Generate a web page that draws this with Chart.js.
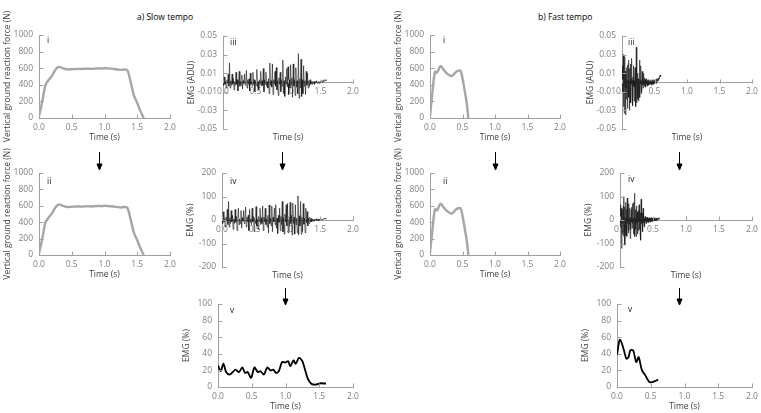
<!DOCTYPE html>
<html>
<head>
<meta charset="utf-8">
<script src="https://cdn.jsdelivr.net/npm/chart.js@4.4.1/dist/chart.umd.min.js"></script>
<style>
    body { margin: 0; width: 761px; height: 413px; background: #fff; position: relative; overflow: hidden; font-family: "Open Sans", sans-serif; }
    canvas { position: absolute; }
    .heading { position: absolute; font-size: 8.5px; line-height: 10px; color: #000; white-space: nowrap; }
    svg { position: absolute; left: 0; top: 0; }
</style>
</head>
<body>
<div class="heading" style="left:137px; top:12px;">a) Slow tempo</div>
<div class="heading" style="left:538px; top:12px;">b) Fast tempo</div>

<svg width="761" height="413">
    <g stroke="#000" stroke-width="1" fill="#000">
        <line x1="99.5" y1="152" x2="99.5" y2="165" /><polygon points="97,164 102,164 99.5,170" />
        <line x1="282.5" y1="152" x2="282.5" y2="165" /><polygon points="280,164 285,164 282.5,170" />
        <line x1="285.5" y1="288" x2="285.5" y2="300" /><polygon points="283,299 288,299 285.5,305" />
        <line x1="495.5" y1="152" x2="495.5" y2="165" /><polygon points="493,164 498,164 495.5,170" />
        <line x1="679.5" y1="152" x2="679.5" y2="165" /><polygon points="677,164 682,164 679.5,170" />
        <line x1="679.5" y1="288" x2="679.5" y2="300" /><polygon points="677,299 682,299 679.5,305" />
    </g>
</svg>

<script>
// Ground reaction force, slow tempo (s, N)
const forceSlowTime = [0.00, 0.05, 0.10, 0.15, 0.20, 0.25, 0.30, 0.35, 0.40, 0.45, 0.50, 0.55, 0.60, 0.65, 0.70, 0.75,
    0.80, 0.85, 0.90, 0.95, 1.00, 1.05, 1.10, 1.15, 1.20, 1.25, 1.30, 1.35, 1.40, 1.45, 1.50, 1.55, 1.60];
const forceSlow = [20, 200, 400, 460, 510, 580, 615, 605, 590, 585, 588, 590, 592, 590, 593, 595,
    592, 595, 598, 596, 600, 598, 595, 590, 585, 580, 585, 575, 430, 270, 180, 80, 0];

// Ground reaction force, fast tempo (s, N)
const forceFastTime = [0.00, 0.03, 0.06, 0.08, 0.10, 0.12, 0.15, 0.17, 0.20, 0.25, 0.30, 0.33, 0.36, 0.40, 0.44, 0.47,
    0.50, 0.54, 0.57, 0.59];
const forceFast = [30, 250, 480, 560, 545, 560, 615, 625, 590, 545, 515, 505, 520, 555, 570, 570,
    480, 300, 150, 0];

// Raw EMG, slow tempo (ADU), one sample every 0.01 s
const EMG_SLOW_DT = 0.01;
const emgSlowRaw = [
    0.002, -0.003, 0.006, -0.002, 0.001, -0.006, 0.003, -0.001, 0.009, -0.004,
    0.021, -0.006, 0.002, -0.003, 0.009, -0.002, 0.004, -0.008, 0.001, -0.003,
    0.011, -0.002, 0.003, -0.009, 0.002, 0.012, -0.004, 0.001, -0.003, 0.008,
    -0.007, 0.002, -0.001, 0.009, -0.003, 0.002, 0.013, -0.006, 0.003, -0.002,
    0.004, -0.009, 0.010, -0.002, 0.001, -0.004, 0.011, -0.002, 0.003, -0.010,
    0.002, -0.003, 0.014, -0.005, 0.001, -0.008, 0.003, -0.002, 0.012, -0.004,
    0.002, -0.003, 0.015, -0.010, 0.003, -0.002, 0.011, -0.004, 0.001, -0.006,
    0.004, -0.012, 0.021, -0.003, 0.002, -0.005, 0.020, -0.013, 0.003, -0.002,
    0.012, -0.004, 0.016, -0.008, 0.002, -0.014, 0.005, -0.002, 0.011, -0.010,
    0.003, -0.004, 0.024, -0.012, 0.002, -0.015, 0.006, -0.002, 0.015, -0.005,
    0.017, -0.013, 0.003, -0.006, 0.019, -0.003, 0.005, -0.016, 0.020, -0.004,
    0.003, -0.014, 0.016, -0.005, 0.002, -0.012, 0.031, -0.017, 0.004, -0.006,
    0.025, -0.015, 0.003, -0.012, 0.018, -0.004, 0.002, -0.013, 0.012, -0.003,
    0.010, -0.006, 0.002, -0.004, 0.003, -0.002, 0.001, -0.002, 0.001, -0.001,
    0.001, -0.002, 0.001, 0.000, 0.002, -0.001, 0.000, 0.001, -0.001, 0.001,
    0.000, 0.002, 0.001, 0.000, 0.002, 0.001, 0.003, 0.002, 0.003, 0.002,
    0.003
];

// Normalised EMG, slow tempo (%)
const emgSlowNorm = [
    10, -15, 35, -8, 5, -30, 12, -5, 45, -20,
    79, -30, 10, -15, 40, -8, 20, -40, 5, -15,
    45, -10, 15, -45, 8, 50, -20, 5, -15, 40,
    -35, 10, -5, 40, -15, 8, 55, -30, 12, -8,
    20, -45, 45, -10, 5, -20, 50, -8, 15, -50,
    10, -15, 57, -25, 5, -40, 15, -8, 50, -20,
    10, -15, 60, -45, 12, -8, 50, -20, 5, -30,
    20, -55, 64, -15, 8, -25, 60, -50, 12, -8,
    50, -20, 65, -35, 8, -58, 20, -10, 50, -45,
    15, -20, 79, -50, 10, -60, 25, -8, 65, -25,
    70, -55, 12, -25, 75, -15, 20, -64, 72, -15,
    12, -60, 65, -20, 8, -55, 103, -64, 18, -25,
    79, -60, 12, -50, 70, -18, 8, -55, 50, -12,
    36, -25, 8, -15, 12, -8, 6, -8, 4, -3,
    4, -6, 3, 0, 5, -3, 2, 4, -3, 3,
    1, 5, 3, 0, 5, 3, 7, 4, 6, 4,
    5
];

// Raw EMG, fast tempo (ADU), one sample every 0.005 s
const EMG_FAST_DT = 0.005;
const emgFastRaw = [
    0.004, -0.010, 0.018, -0.004, 0.030, -0.026, 0.006, -0.033, 0.028, -0.005,
    0.012, -0.035, 0.004, -0.018, 0.016, -0.006, 0.003, -0.028, 0.019, -0.004,
    0.024, -0.016, 0.002, -0.030, 0.015, -0.003, 0.020, -0.022, 0.004, -0.002,
    0.026, -0.018, 0.003, -0.025, 0.006, -0.004, 0.018, -0.020, 0.002, -0.005,
    0.016, -0.003, 0.006, -0.026, 0.038, -0.022, 0.003, -0.005, 0.010, -0.018,
    0.004, -0.020, 0.002, -0.006, 0.024, -0.016, 0.003, -0.002, 0.018, -0.012,
    0.002, -0.010, 0.012, -0.003, 0.002, -0.006, 0.010, -0.002, 0.003, -0.004,
    0.005, -0.004, 0.003, -0.005, 0.004, -0.002, 0.003, -0.004, 0.002, -0.003,
    0.003, -0.002, 0.002, -0.003, 0.001, -0.002, 0.002, -0.001, 0.003, -0.002,
    0.001, -0.003, 0.002, -0.001, 0.003, -0.002, 0.001, -0.002, 0.003, 0.000,
    0.002, -0.001, 0.003, 0.001, 0.002, -0.001, 0.004, 0.002, 0.003, 0.001,
    0.004, 0.002, 0.005, 0.003, 0.004, 0.006, 0.005, 0.008, 0.006, 0.007,
    0.008
];

// Normalised EMG, fast tempo (%)
const emgFastNorm = [
    20, -30, 65, -10, 50, -121, 15, -60, 45, -15,
    60, -70, 100, -20, 55, -107, 10, -65, 75, -12,
    45, -70, 93, -15, 10, -55, 70, -45, 8, -20,
    50, -79, 12, -40, 45, -10, 55, -35, 70, -15,
    8, -60, 75, -12, 114, -70, 10, -40, 45, -71,
    60, -15, 35, -60, 10, -45, 40, -8, 65, -40,
    12, -60, 30, -86, 89, -15, 40, -10, 30, -50,
    50, -12, 25, -30, 8, -25, 15, -5, 12, -15,
    10, -14, 12, -8, 10, -12, 8, -6, 10, -8,
    6, -9, 8, -5, 10, -7, 5, -6, 9, -4,
    7, -5, 9, -3, 8, -4, 10, -2, 7, -3,
    8, -2, 9, -1, 6, 4, 8, 2, 10, 5,
    8
];

// Smoothed EMG envelope, slow tempo (s, %)
const rmsSlowTime = [0.00, 0.04, 0.08, 0.12, 0.17, 0.22, 0.26, 0.31, 0.36, 0.40, 0.44, 0.49, 0.54, 0.59, 0.63, 0.68,
    0.73, 0.78, 0.82, 0.86, 0.90, 0.95, 1.00, 1.04, 1.07, 1.12, 1.15, 1.20, 1.25, 1.28, 1.33, 1.38,
    1.41, 1.46, 1.52, 1.60];
const rmsSlow = [26, 19, 28, 18, 15, 18, 21, 18, 23.5, 17, 18, 11, 23.5, 18, 19, 15,
    23.5, 20, 21, 17, 19, 30, 29.5, 31, 25, 32, 28, 35, 31, 23.5, 10, 4,
    3, 3, 4.5, 4];

// Smoothed EMG envelope, fast tempo (s, %)
const rmsFastTime = [0.00, 0.04, 0.07, 0.11, 0.14, 0.17, 0.20, 0.24, 0.285, 0.32, 0.37, 0.42, 0.48, 0.52, 0.565, 0.61];
const rmsFast = [38.5, 57, 53, 42, 34, 36, 44.5, 44, 30, 36, 20, 14, 6, 6, 7, 9];

const AXIS_COLOR = '#a0a0a0';
const TICK_COLOR = '#808080';
const TITLE_COLOR = '#404040';

Chart.defaults.font.family = "'Open Sans', sans-serif";
Chart.defaults.font.size = 8.5;

function pairs(xs, ys) {
    return ys.map((v, i) => ({ x: xs[i], y: v }));
}

function sampled(values, dt) {
    return values.map((v, i) => ({ x: i * dt, y: v }));
}

// Tick marks pointing into the plot, like the original spreadsheet axes
const innerTicks = {
    id: 'innerTicks',
    afterDatasetsDraw(chart) {
        const { ctx, scales: { x, y } } = chart;
        const axisY = typeof x.options.position === 'object'
            ? Math.round(y.getPixelForValue(0)) + 0.5
            : Math.round(chart.chartArea.bottom) + 0.5;
        const axisX = Math.round(chart.chartArea.left) + 0.5;
        ctx.save();
        ctx.strokeStyle = AXIS_COLOR;
        ctx.lineWidth = 1;
        ctx.beginPath();
        y.ticks.forEach(t => {
            const py = Math.round(y.getPixelForValue(t.value)) + 0.5;
            ctx.moveTo(axisX, py);
            ctx.lineTo(axisX + 4, py);
        });
        x.ticks.forEach(t => {
            const px = Math.round(x.getPixelForValue(t.value)) + 0.5;
            ctx.moveTo(px, axisY);
            ctx.lineTo(px, axisY - 4);
        });
        ctx.stroke();
        ctx.restore();
    }
};

// Roman numeral in the upper left corner of each panel
const panelTag = {
    id: 'panelTag',
    afterDraw(chart, args, opts) {
        if (!opts.text) return;
        const { ctx, chartArea } = chart;
        ctx.save();
        ctx.fillStyle = '#222';
        ctx.font = "8.5px 'Open Sans', sans-serif";
        ctx.textAlign = 'left';
        ctx.textBaseline = 'middle';
        ctx.fillText(opts.text, chartArea.left + opts.dx, chartArea.top + opts.dy);
        ctx.restore();
    }
};

function panel(box, dataset, yAxis, tag) {
    const canvas = document.createElement('canvas');
    canvas.width = box.r - box.x + 50;
    canvas.height = box.b - box.y + 60;
    canvas.style.left = (box.x - 40) + 'px';
    canvas.style.top = (box.y - 30) + 'px';
    document.body.appendChild(canvas);

    const zeroAxis = yAxis.min < 0;

    new Chart(canvas, {
        type: 'line',
        data: { datasets: [dataset] },
        options: {
            responsive: false,
            animation: false,
            devicePixelRatio: 1,
            layout: { padding: { top: 30, right: 10, left: 0, bottom: zeroAxis ? 15 : 0 } },
            elements: { point: { radius: 0 } },
            plugins: {
                legend: { display: false },
                tooltip: { enabled: false },
                title: {
                    display: zeroAxis,
                    text: 'Time (s)',
                    position: 'bottom',
                    fullSize: false,
                    color: TITLE_COLOR,
                    font: { size: 8.5, weight: 'normal', lineHeight: '12px' },
                    padding: { top: 3, bottom: 0 }
                },
                panelTag: tag
            },
            scales: {
                x: {
                    type: 'linear',
                    min: 0,
                    max: 2,
                    position: zeroAxis ? { y: 0 } : 'bottom',
                    grid: { drawOnChartArea: false, drawTicks: false },
                    border: { color: AXIS_COLOR, width: 1 },
                    ticks: {
                        stepSize: 0.5,
                        padding: 4,
                        color: TICK_COLOR,
                        maxRotation: 0,
                        autoSkip: false,
                        callback: v => v.toFixed(1)
                    },
                    title: {
                        display: !zeroAxis,
                        text: 'Time (s)',
                        color: TITLE_COLOR,
                        padding: { top: 0, bottom: 5 }
                    },
                    afterFit: s => { if (!zeroAxis) s.height = 30; }
                },
                y: {
                    min: yAxis.min,
                    max: yAxis.max,
                    grid: { drawOnChartArea: false, drawTicks: false },
                    border: { color: AXIS_COLOR, width: 1 },
                    ticks: {
                        stepSize: yAxis.step,
                        padding: 6,
                        color: TICK_COLOR,
                        autoSkip: false,
                        callback: v => v.toFixed(yAxis.decimals)
                    },
                    title: {
                        display: true,
                        text: yAxis.title,
                        color: TITLE_COLOR,
                        padding: { top: 3, bottom: 0 }
                    },
                    afterFit: s => { s.width = 40; }
                }
            }
        },
        plugins: [innerTicks, panelTag]
    });
}

const forceAxis = { min: 0, max: 1000, step: 200, decimals: 0, title: 'Vertical ground reaction force (N)' };
const rawAxis = { min: -0.05, max: 0.05, step: 0.02, decimals: 2, title: 'EMG (ADU)' };
const normAxis = { min: -200, max: 200, step: 100, decimals: 0, title: 'EMG (%)' };
const rmsAxis = { min: 0, max: 100, step: 20, decimals: 0, title: 'EMG (%)' };

function forceLine(xs, ys) {
    return { data: pairs(xs, ys), borderColor: '#a6a6a6', borderWidth: 2.4, tension: 0.3 };
}
function emgLine(points) {
    return { data: points, borderColor: '#111', borderWidth: 0.6, tension: 0 };
}
function rmsLine(xs, ys) {
    return { data: pairs(xs, ys), borderColor: '#000', borderWidth: 1.8, tension: 0.3 };
}

// a) Slow tempo
panel({ x: 39, y: 35, r: 170, b: 118 }, forceLine(forceSlowTime, forceSlow), forceAxis, { text: 'i', dx: 8, dy: 6 });
panel({ x: 39, y: 173, r: 170, b: 255 }, forceLine(forceSlowTime, forceSlow), forceAxis, { text: 'ii', dx: 8, dy: 9 });
panel({ x: 223, y: 36, r: 353, b: 129 }, emgLine(sampled(emgSlowRaw, EMG_SLOW_DT)), rawAxis, { text: 'iii', dx: 7, dy: 7 });
panel({ x: 222, y: 173, r: 353, b: 267 }, emgLine(sampled(emgSlowNorm, EMG_SLOW_DT)), normAxis, { text: 'iv', dx: 8, dy: 9 });
panel({ x: 218, y: 304, r: 353, b: 387 }, rmsLine(rmsSlowTime, rmsSlow), rmsAxis, { text: 'v', dx: 12, dy: 7 });

// b) Fast tempo
panel({ x: 430, y: 35, r: 560, b: 118 }, forceLine(forceFastTime, forceFast), forceAxis, { text: 'i', dx: 13, dy: 6 });
panel({ x: 430, y: 173, r: 560, b: 255 }, forceLine(forceFastTime, forceFast), forceAxis, { text: 'ii', dx: 13, dy: 9 });
panel({ x: 622, y: 36, r: 752, b: 129 }, emgLine(sampled(emgFastRaw, EMG_FAST_DT)), rawAxis, { text: 'iii', dx: 6, dy: 7 });
panel({ x: 620, y: 173, r: 752, b: 267 }, emgLine(sampled(emgFastNorm, EMG_FAST_DT)), normAxis, { text: 'iv', dx: 8, dy: 7 });
panel({ x: 617, y: 304, r: 752, b: 387 }, rmsLine(rmsFastTime, rmsFast), rmsAxis, { text: 'v', dx: 11, dy: 6 });
</script>
</body>
</html>
